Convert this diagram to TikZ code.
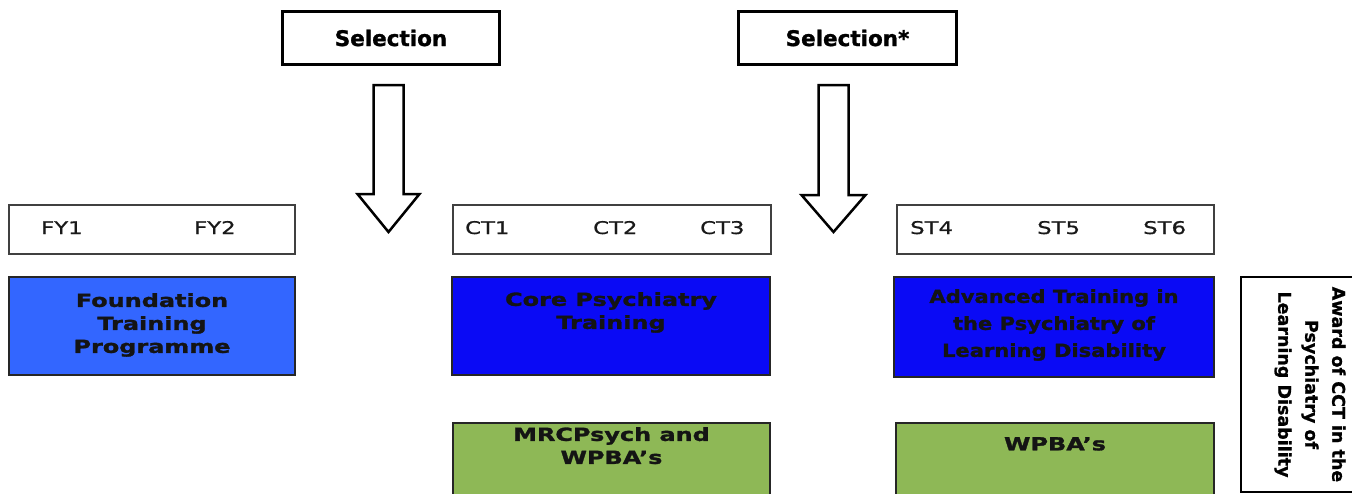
\documentclass[tikz,border=0pt]{standalone}
\usepackage{fontspec}
\setmainfont{DejaVu Sans}
\newfontfamily\selfont[FakeBold=1.2]{DejaVu Sans}
\newfontfamily\boxfont[FakeStretch=1.33,FakeBold=1.6]{DejaVu Sans}
\newfontfamily\advfont[FakeStretch=1.17,FakeBold=1.6]{DejaVu Sans}
\newfontfamily\yrfont[FakeStretch=1.3,FakeBold=0.8]{DejaVu Sans}
\newfontfamily\awfont[FakeBold=1.0]{DejaVu Sans}
\definecolor{fblue}{HTML}{3366FF}
\definecolor{cblue}{HTML}{0A0AF5}
\definecolor{pgreen}{HTML}{8EB856}
\begin{document}
\begin{tikzpicture}[x=1pt,y=-1pt,
  selbox/.style={draw=black,line width=3pt,fill=white,inner sep=0pt,anchor=north west,
    font=\selfont\bfseries\fontsize{21.5}{24}\selectfont},
  yrbox/.style={draw=black!75,line width=1.5pt,fill=white,inner sep=0pt,anchor=north west},
  blk/.style={draw=black!85,line width=2pt,inner sep=0pt,anchor=north west},
  yrtext/.style={font=\yrfont\fontsize{17.5}{20}\selectfont,inner sep=0pt,anchor=base west,text=black!90},
  boxtext/.style={font=\boxfont\bfseries\fontsize{18}{23}\selectfont,align=center,inner sep=0pt,anchor=north,text=black!92},
  barrow/.style={draw=black,line width=2.5pt,fill=white,line join=miter}
]
\useasboundingbox (0,0) rectangle (1352,493);

% selection boxes
\node[selbox,minimum width=217pt,minimum height=53pt] (sel1) at (281,10) {Selection};
\node[selbox,minimum width=218pt,minimum height=53pt] (sel2) at (737,10) {Selection*};

% block arrows
\draw[barrow,shift={(sel1.south)}] (-17.5,19) -- (12.5,19) -- (12.5,128) -- (28.5,128)
  -- (-2.5,166) -- (-33.5,128) -- (-17.5,128) -- cycle;
\draw[barrow,shift={(sel2.south)}] (-29,19) -- (1,19) -- (1,129) -- (18,129)
  -- (-14,166) -- (-46,129) -- (-29,129) -- cycle;

% year bars
\node[yrbox,minimum width=286pt,minimum height=49pt] (fy) at (8,204) {};
\node[yrbox,minimum width=318pt,minimum height=49pt] (ct) at (452,204) {};
\node[yrbox,minimum width=317pt,minimum height=49pt] (st) at (896,204) {};
\node[yrtext] (fy1) at (41,234) {FY1};
\node[yrtext] (fy2) at (194,234) {FY2};
\node[yrtext] (ct1) at (465,234) {CT1};
\node[yrtext] (ct2) at (593,234) {CT2};
\node[yrtext] (ct3) at (700,234) {CT3};
\node[yrtext] (st4) at (910,234) {ST4};
\node[yrtext] (st5) at (1037,234) {ST5};
\node[yrtext] (st6) at (1143,234) {ST6};

% training boxes
\node[blk,fill=fblue,minimum width=286pt,minimum height=98pt] (fnd) at (8,276) {};
\node[blk,fill=cblue,minimum width=318pt,minimum height=98pt] (core) at (451,276) {};
\node[blk,fill=cblue,minimum width=320pt,minimum height=100pt] (adv) at (893,276) {};
\node[blk,fill=pgreen,minimum width=317pt,minimum height=90pt] (mrc) at (452,422) {};
\node[blk,fill=pgreen,minimum width=318pt,minimum height=90pt] (wpba) at (895,422) {};

\node[boxtext] (fndt) at ([yshift=-17pt]fnd.north) {Foundation\\Training\\Programme};
\node[boxtext] (coret) at ([yshift=-16pt]core.north) {Core Psychiatry\\Training};
\node[boxtext,font=\advfont\bfseries\fontsize{18}{27}\selectfont] (advt) at ([yshift=-13pt]adv.north) {Advanced Training in\\the Psychiatry of\\Learning Disability};
\node[boxtext] (mrct) at ([yshift=-5pt]mrc.north) {MRCPsych and\\WPBA’s};
\node[boxtext] (wpbat) at ([yshift=-15pt]wpba.north) {WPBA’s};

% award box
\node[draw=black,line width=2pt,fill=white,rotate=-90,minimum width=215pt,minimum height=138pt,
  inner sep=0pt,align=center,font=\awfont\bfseries\fontsize{17.5}{27}\selectfont] (award) at (1310,384.5)
  {Award of CCT in the\\Psychiatry of\\Learning Disability};
\end{tikzpicture}
\end{document}
